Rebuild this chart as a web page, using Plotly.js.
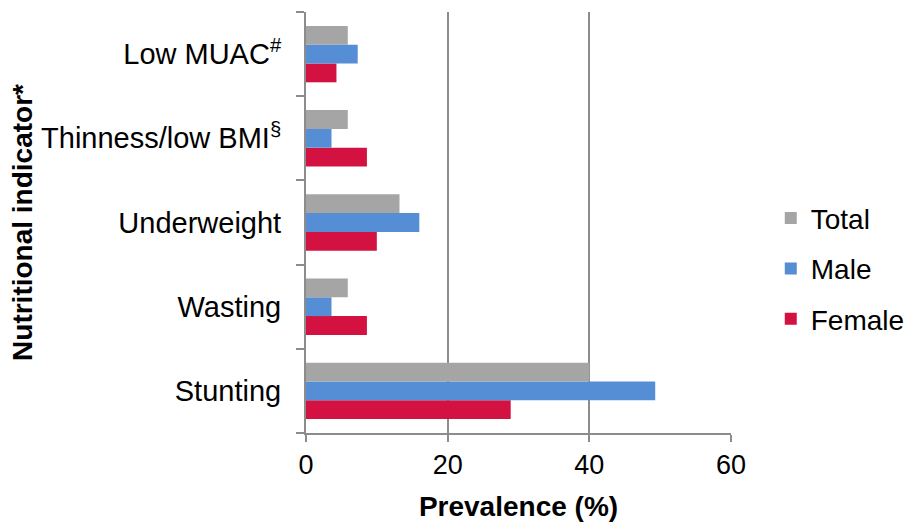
<!DOCTYPE html>
<html>
<head>
<meta charset="utf-8">
<script src="https://cdn.plot.ly/plotly-3.0.1.min.js"></script>
<style>html,body{margin:0;padding:0;background:#fff;}#chart{width:910px;height:524px;}</style>
</head>
<body>
<div id="chart"></div>
<script>
const categories = ["Stunting", "Wasting", "Underweight", "Thinness/low BMI<sup>§</sup>", "Low MUAC<sup>#</sup>"];
const totalValues = [40.0, 5.9, 13.2, 5.9, 5.9];
const maleValues = [49.3, 3.6, 16.0, 3.6, 7.3];
const femaleValues = [28.9, 8.6, 10.0, 8.6, 4.3];
const seriesNames = ["Female", "Male", "Total"];
const legendRanks = {Total: 1, Male: 2, Female: 3};
const xTicks = [0, 20, 40, 60];

const colors = {Total: "#A5A5A5", Male: "#558ED5", Female: "#D31242"};
const valuesByName = {Total: totalValues, Male: maleValues, Female: femaleValues};

const traces = seriesNames.map(n => ({
  type: "bar",
  orientation: "h",
  name: n,
  y: categories,
  x: valuesByName[n],
  legendgroup: n,
  legendrank: legendRanks[n],
  marker: {color: colors[n], line: {width: 0}},
  hoverinfo: "x+y+name"
}));

const font = {family: "Liberation Sans, Arial, sans-serif", color: "#000"};
const f = s => Object.assign({size: s}, font);
const layout = {
  width: 910, height: 524,
  margin: {l: 306, r: 179, t: 12, b: 91},
  paper_bgcolor: "#fff", plot_bgcolor: "#fff",
  barmode: "group",
  bargap: 0.33, bargroupgap: 0,
  font: f(28),
  xaxis: {
    range: [0, 60], tickvals: xTicks, ticktext: xTicks.map(String),
    showgrid: true, gridcolor: "#8C8C8C", gridwidth: 2,
    zeroline: false,
    showline: true, linecolor: "#8C8C8C", linewidth: 2,
    ticks: "outside", ticklen: 7, tickcolor: "#8C8C8C", tickwidth: 2,
    tickfont: f(27),
    title: {text: "<b>Prevalence (%)</b>", font: f(28), standoff: 17},
    fixedrange: true
  },
  yaxis: {
    type: "category",
    showgrid: false, zeroline: false,
    showline: true, linecolor: "#8C8C8C", linewidth: 2,
    ticks: "outside", ticklen: 8, tickcolor: "#8C8C8C", tickwidth: 2,
    tickson: "boundaries",
    ticklabelstandoff: 17,
    tickfont: f(29),
    title: {text: "<b>Nutritional indicator*</b>", font: f(28), standoff: 0},
    fixedrange: true
  },
  legend: {
    xref: "container", x: 0.847, xanchor: "left",
    y: 0.39, yanchor: "middle",
    traceorder: "grouped",
    tracegroupgap: 11,
    font: f(28),
    itemwidth: 30
  },
  showlegend: true
};

Plotly.newPlot("chart", traces, layout, {displayModeBar: false, staticPlot: true});
</script>
</body>
</html>
